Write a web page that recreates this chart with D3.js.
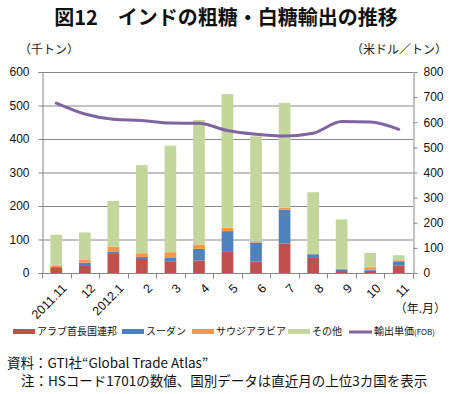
<!DOCTYPE html>
<html>
<head>
<meta charset="utf-8">
<script src="https://cdn.jsdelivr.net/npm/d3@7/dist/d3.min.js"></script>
<style>
  html, body { margin: 0; padding: 0; background: #fff; overflow: hidden; }
  svg { display: block; font-family: "Noto Sans CJK JP", sans-serif; }
  .tick text { font-family: "Liberation Sans", Arial, sans-serif; }
</style>
</head>
<body>
<svg id="chart" width="453" height="394" viewBox="0 0 453 394"></svg>
<script>
const months = ["2011.11", "12", "2012.1", "2", "3", "4", "5", "6", "7", "8", "9", "10", "11"];
const uae = [16, 21, 57, 42, 35, 37, 63, 34, 88, 45, 3, 7, 23];
const sudan = [2, 10, 6, 6, 10, 35, 62, 57, 101, 11, 8, 3, 12];
const saudi = [3, 8, 16, 11, 17, 12, 10, 4, 6, 1, 2, 7, 3];
const other = [93, 82, 136, 263, 318, 373, 399, 313, 313, 184, 147, 43, 15];
const unitPrice = [676, 633, 612, 607, 597, 596, 567, 552, 545, 556, 603, 601, 572];
const leftTicks = [0, 100, 200, 300, 400, 500, 600];
const rightTicks = [0, 100, 200, 300, 400, 500, 600, 700, 800];

const seriesNames = ["アラブ首長国連邦", "スーダン", "サウジアラビア", "その他"];
const seriesColors = ["#c0504d", "#4f81bd", "#f79646", "#c3d69b"];
const lineColor = "#8064a2";

const svg = d3.select("#chart");
const margin = { top: 72, left: 42, right: 40, bottom: 121 };
const width = 453;
const height = 394;
const innerWidth = width - margin.left - margin.right;
const innerHeight = height - margin.top - margin.bottom;

const rows = months.map((m, i) => ({
  month: m, uae: uae[i], sudan: sudan[i], saudi: saudi[i], other: other[i]
}));
const keys = ["uae", "sudan", "saudi", "other"];
const stacked = d3.stack().keys(keys)(rows);

const x = d3.scaleBand().domain(months).range([0, innerWidth]).paddingInner(0.59).paddingOuter(0.295);
const xBand = d3.scaleBand().domain(months).range([0, innerWidth]);
const y = d3.scaleLinear().domain([0, 600]).range([innerHeight, 0]);
const y2 = d3.scaleLinear().domain([0, 800]).range([innerHeight, 0]);

// title
svg.append("text")
  .attr("x", 226)
  .attr("y", 25)
  .attr("text-anchor", "middle")
  .attr("font-size", "20px")
  .attr("font-weight", "bold")
  .attr("fill", "#111")
  .text("図12　インドの粗糖・白糖輸出の推移");

svg.append("text")
  .attr("x", 19)
  .attr("y", 54)
  .attr("font-size", "12px")
  .attr("fill", "#222")
  .text("（千トン）");

svg.append("text")
  .attr("x", 447)
  .attr("y", 54)
  .attr("text-anchor", "end")
  .attr("font-size", "12px")
  .attr("fill", "#222")
  .text("（米ドル／トン）");

const g = svg.append("g")
  .attr("transform", `translate(${margin.left}, ${margin.top})`);

// gridlines
g.append("g")
  .selectAll("line")
  .data(leftTicks.filter(d => d > 0))
  .join("line")
  .attr("x1", 0)
  .attr("x2", innerWidth)
  .attr("y1", d => y(d) + 0.5)
  .attr("y2", d => y(d) + 0.5)
  .attr("stroke", "#868686")
  .attr("stroke-width", 1);

// bars
g.append("g")
  .selectAll("g")
  .data(stacked)
  .join("g")
  .attr("fill", (d, i) => seriesColors[i])
  .selectAll("rect")
  .data(d => d)
  .join("rect")
  .attr("x", d => x(d.data.month))
  .attr("y", d => y(d[1]))
  .attr("width", x.bandwidth())
  .attr("height", d => y(d[0]) - y(d[1]));

// axes
const leftAxis = g.append("g")
  .attr("transform", "translate(0.5,0)")
  .call(d3.axisLeft(y).tickValues(leftTicks).tickSize(4).tickPadding(9));
const rightAxis = g.append("g")
  .attr("transform", `translate(${innerWidth + 0.5},0)`)
  .call(d3.axisRight(y2).tickValues(rightTicks).tickSize(4).tickPadding(6));

[leftAxis, rightAxis].forEach(a => {
  a.select(".domain").attr("stroke", "#868686");
  a.selectAll(".tick line").attr("stroke", "#868686");
  a.selectAll(".tick text").attr("font-size", "12px").attr("fill", "#111");
});

// x baseline and category separators
const bottom = g.append("g").attr("transform", `translate(0,${innerHeight + 0.5})`);
bottom.append("line")
  .attr("x1", 0)
  .attr("x2", innerWidth)
  .attr("stroke", "#868686");
bottom.selectAll(".sep")
  .data(d3.range(months.length + 1))
  .join("line")
  .attr("class", "sep")
  .attr("x1", i => Math.round(i * xBand.bandwidth()) + 0.5)
  .attr("x2", i => Math.round(i * xBand.bandwidth()) + 0.5)
  .attr("y1", 0)
  .attr("y2", 5)
  .attr("stroke", "#868686");

// x labels
g.append("g")
  .selectAll("text")
  .data(months)
  .join("text")
  .attr("transform", d => `translate(${xBand(d) + xBand.bandwidth() / 2 + 5},${innerHeight + 10}) rotate(-45)`)
  .attr("text-anchor", "end")
  .attr("dy", "0.7em")
  .attr("font-family", "'Liberation Sans', Arial, sans-serif")
  .attr("font-size", "12.5px")
  .attr("fill", "#111")
  .text(d => d);

svg.append("text")
  .attr("x", 446)
  .attr("y", 313)
  .attr("text-anchor", "end")
  .attr("font-size", "12px")
  .attr("fill", "#222")
  .text("（年.月）");

// price line
const line = d3.line()
  .x((d, i) => xBand(months[i]) + xBand.bandwidth() / 2)
  .y(d => y2(d))
  .curve(d3.curveMonotoneX);

g.append("path")
  .datum(unitPrice)
  .attr("fill", "none")
  .attr("stroke", lineColor)
  .attr("stroke-width", 3)
  .attr("stroke-linecap", "round")
  .attr("d", line);

// legend
const legendItems = [
  { name: seriesNames[0], color: seriesColors[0], x: 13 },
  { name: seriesNames[1], color: seriesColors[1], x: 122 },
  { name: seriesNames[2], color: seriesColors[2], x: 192 },
  { name: seriesNames[3], color: seriesColors[3], x: 288 }
];
const legend = svg.append("g").attr("transform", "translate(0,331)");
legend.selectAll("rect")
  .data(legendItems)
  .join("rect")
  .attr("x", d => d.x)
  .attr("y", -2)
  .attr("width", 22)
  .attr("height", 5)
  .attr("fill", d => d.color);
legend.selectAll("text.item")
  .data(legendItems)
  .join("text")
  .attr("class", "item")
  .attr("x", d => d.x + 24)
  .attr("y", 4)
  .attr("font-size", "10px")
  .attr("fill", "#111")
  .text(d => d.name);
legend.append("line")
  .attr("x1", 349)
  .attr("x2", 372)
  .attr("y1", 1)
  .attr("y2", 1)
  .attr("stroke", lineColor)
  .attr("stroke-width", 3);
const lt = legend.append("text")
  .attr("x", 374)
  .attr("y", 4)
  .attr("font-size", "10px")
  .attr("fill", "#111");
lt.append("tspan").text("輸出単価");
lt.append("tspan").attr("font-size", "8px").text("(FOB)");

// notes
svg.append("text")
  .attr("x", 7)
  .attr("y", 368)
  .attr("font-size", "13.5px")
  .attr("fill", "#111")
  .text("資料：GTI社“Global Trade Atlas”");
svg.append("text")
  .attr("x", 21)
  .attr("y", 386)
  .attr("font-size", "13.5px")
  .attr("fill", "#111")
  .text("注：HSコード1701の数値、国別データは直近月の上位3カ国を表示");
</script>
</body>
</html>
